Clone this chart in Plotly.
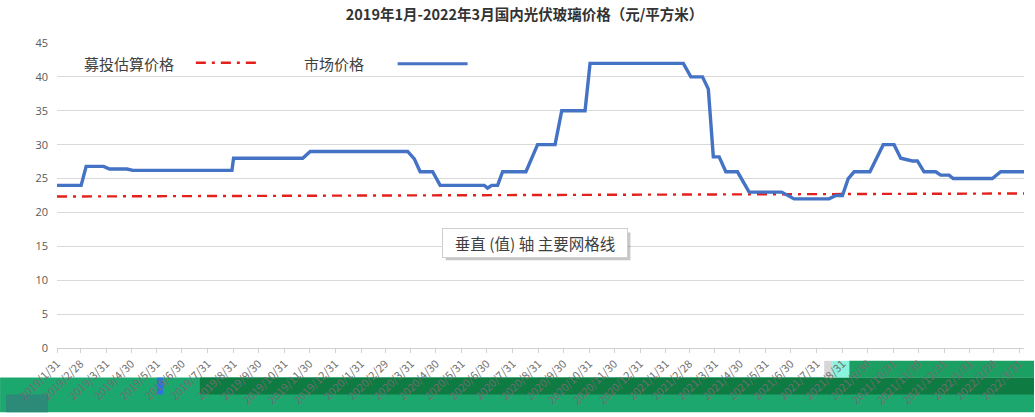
import plotly.graph_objects as go

# ---------------- data ----------------
market_dates = [
    "2019-01-31", "2019-03-01", "2019-03-07", "2019-03-28", "2019-04-04", "2019-04-25",
    "2019-05-02", "2019-08-29", "2019-08-31", "2019-11-22", "2019-12-01", "2020-03-27",
    "2020-04-04", "2020-04-11", "2020-04-26", "2020-05-05", "2020-06-27", "2020-07-01",
    "2020-07-06", "2020-07-13", "2020-07-19", "2020-08-16", "2020-08-30", "2020-09-20",
    "2020-09-28", "2020-10-26", "2020-11-01", "2021-02-21", "2021-03-02", "2021-03-16",
    "2021-03-23", "2021-03-29", "2021-04-05", "2021-04-13", "2021-04-27", "2021-05-11",
    "2021-06-19", "2021-07-04", "2021-08-15", "2021-08-23", "2021-08-31", "2021-09-07",
    "2021-09-14", "2021-10-03", "2021-10-19", "2021-11-01", "2021-11-09", "2021-11-17",
    "2021-11-23", "2021-11-29", "2021-12-07", "2021-12-21", "2021-12-27", "2022-01-06",
    "2022-01-11", "2022-02-27", "2022-03-09", "2022-04-06",
]
market_price = [
    24.0, 24.0, 26.8, 26.8, 26.4, 26.4,
    26.2, 26.2, 28.0, 28.0, 29.0, 29.0,
    27.9, 26.0, 26.0, 24.0, 24.0, 23.6,
    24.0, 24.0, 26.0, 26.0, 30.0, 30.0,
    35.0, 35.0, 42.0, 42.0, 40.0, 40.0,
    38.2, 28.2, 28.2, 26.0, 26.0, 23.0,
    23.0, 22.0, 22.0, 22.5, 22.5, 25.0,
    26.0, 26.0, 30.0, 30.0, 28.0, 27.8,
    27.6, 27.6, 26.0, 26.0, 25.5, 25.5,
    25.0, 25.0, 26.0, 26.0,
]

estimate_dates = ["2019-01-31", "2022-04-06"]
estimate_price = [22.35, 22.8]

tick_dates = [
    "2019-01-31", "2019-02-28", "2019-03-31", "2019-04-30", "2019-05-31", "2019-06-30",
    "2019-07-31", "2019-08-31", "2019-09-30", "2019-10-31", "2019-11-30", "2019-12-31",
    "2020-01-31", "2020-02-29", "2020-03-31", "2020-04-30", "2020-05-31", "2020-06-30",
    "2020-07-31", "2020-08-31", "2020-09-30", "2020-10-31", "2020-11-30", "2020-12-31",
    "2021-01-31", "2021-02-28", "2021-03-31", "2021-04-30", "2021-05-31", "2021-06-30",
    "2021-07-31", "2021-08-31", "2021-09-30", "2021-10-31", "2021-11-30", "2021-12-31",
    "2022-01-31", "2022-02-28", "2022-03-31",
]
tick_labels = [
    "2019/1/31", "2019/2/28", "2019/3/31", "2019/4/30", "2019/5/31", "2019/6/30",
    "2019/7/31", "2019/8/31", "2019/9/30", "2019/10/31", "2019/11/30", "2019/12/31",
    "2020/1/31", "2020/2/29", "2020/3/31", "2020/4/30", "2020/5/31", "2020/6/30",
    "2020/7/31", "2020/8/31", "2020/9/30", "2020/10/31", "2020/11/30", "2020/12/31",
    "2021/1/31", "2021/2/28", "2021/3/31", "2021/4/30", "2021/5/31", "2021/6/30",
    "2021/7/31", "2021/8/31", "2021/9/30", "2021/10/31", "2021/11/30", "2021/12/31",
    "2022/1/31", "2022/2/28", "2022/3/31",
]

title_text = "2019年1月-2022年3月国内光伏玻璃价格（元/平方米）"
legend_names = ["募投估算价格", "市场价格"]
tooltip_text = "垂直 (值) 轴 主要网格线"

# ---------------- layout geometry ----------------
W, H = 1035, 417
L, R, T, B = 57, 10, 43, 65
PW, PH = W - L - R, H - T - B
CJK = "Noto Sans CJK SC"


def px(x):
    return (x - L) / PW


def py(y):
    return (H - B - y) / PH


fig = go.Figure()

fig.add_trace(go.Scatter(
    x=estimate_dates, y=estimate_price, mode="lines", name=legend_names[0],
    line=dict(color="#e3201b", width=2.4, dash="10px,6px,3px,6px"),
    hoverinfo="skip",
))
fig.add_trace(go.Scatter(
    x=market_dates, y=market_price, mode="lines", name=legend_names[1],
    line=dict(color="#4472c4", width=3.4),
    hoverinfo="skip",
))

shapes = []
annotations = []

# legend (text first, then sample line, as in the reference)
annotations.append(dict(x=px(82), y=py(64), xref="paper", yref="paper", text=legend_names[0],
                        showarrow=False, xanchor="left", yanchor="middle",
                        font=dict(family=CJK, size=15, color="#404040")))
shapes.append(dict(type="line", xref="paper", yref="paper", x0=px(196), x1=px(259),
                   y0=py(63), y1=py(63),
                   line=dict(color="#e3201b", width=2.4, dash="10px,6px,3px,6px")))
annotations.append(dict(x=px(302), y=py(64), xref="paper", yref="paper", text=legend_names[1],
                        showarrow=False, xanchor="left", yanchor="middle",
                        font=dict(family=CJK, size=15, color="#404040")))
shapes.append(dict(type="line", xref="paper", yref="paper", x0=px(398), x1=px(468),
                   y0=py(64), y1=py(64), line=dict(color="#4472c4", width=3)))

# tooltip box with shadow
shapes.append(dict(type="rect", xref="paper", yref="paper", x0=px(446), x1=px(631),
                   y0=py(263), y1=py(235), fillcolor="rgba(0,0,0,0.22)",
                   line=dict(width=0), layer="above"))
annotations.append(dict(x=px(535.5), y=py(246), xref="paper", yref="paper", text=tooltip_text,
                        showarrow=False, xanchor="center", yanchor="middle",
                        width=180, height=24,
                        bgcolor="#ffffff", bordercolor="#cfcfcf", borderwidth=1, borderpad=2,
                        font=dict(family=CJK, size=15.5, color="#404040")))

# green band at the bottom of the screenshot
band = [
    (0, 1035, 382, 417, "#1ca76f"),
    (200, 1035, 382, 399, "#0d7b42"),
    (850, 1035, 365, 382, "#1b9f62"),
    (833, 850, 365, 382, "#8cf3df"),
    (825, 833, 365, 382, "#d6d6d6"),
    (157, 163, 382, 399, "#2a72e6"),
    (6, 48, 399, 417, "#2b8a78"),
]
for x0, x1, y0, y1, c in band:
    shapes.append(dict(type="rect", xref="paper", yref="paper", x0=px(x0), x1=px(x1),
                       y0=py(y1), y1=py(y0), fillcolor=c, line=dict(width=0), layer="below"))

fig.update_layout(
    width=W, height=H,
    margin=dict(l=L, r=R, t=T, b=B),
    paper_bgcolor="#ffffff", plot_bgcolor="#ffffff",
    showlegend=False,
    title=dict(text=title_text, x=(525 - L) / PW, xref="paper", xanchor="center",
               y=1 - 15 / H, yanchor="middle",
               font=dict(family=CJK, size=14.5, color="#333333", weight="bold")),
    shapes=shapes, annotations=annotations,
    xaxis=dict(
        type="date", range=["2019-01-31", "2022-04-06"],
        tickvals=tick_dates, ticktext=tick_labels, tickangle=-45,
        tickfont=dict(family=CJK, size=11, color="#6f6f6f"),
        showgrid=False, zeroline=False,
        showline=True, linecolor="#d0d0d0", linewidth=1,
        ticks="outside", ticklen=4, tickcolor="#d0d0d0",
    ),
    yaxis=dict(
        range=[0, 45], tickmode="linear", tick0=0, dtick=5,
        tickfont=dict(family="Open Sans", size=11, color="#595959"),
        showgrid=True, gridcolor="#d9d9d9", gridwidth=1,
        zeroline=False, showline=False, ticks="", ticklabelstandoff=8,
    ),
)

fig.write_html(
    "out.html",
    config={"displayModeBar": False, "staticPlot": True},
    post_script="document.body.style.margin='0';document.body.style.overflow='hidden';",
)
